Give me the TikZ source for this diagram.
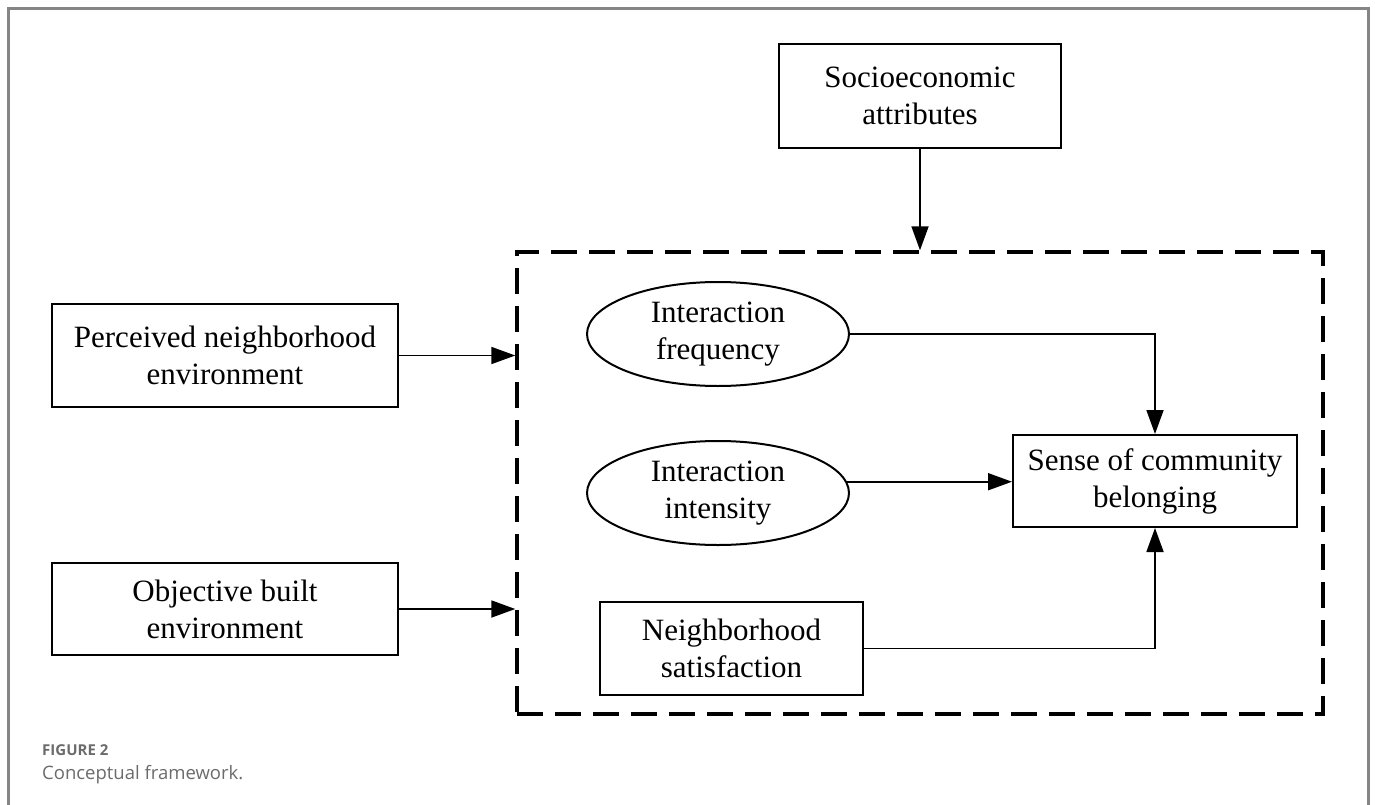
\documentclass[tikz,border=0pt]{standalone}
\usepackage{fontspec}
\setmainfont{Liberation Serif}
\newfontfamily\captionfont{Open Sans}
\usetikzlibrary{shapes.geometric,arrows.meta,positioning,calc}
\definecolor{framegray}{HTML}{858585}
\definecolor{captiongray}{HTML}{6B6B6B}
\tikzset{
  block/.style={draw, line width=2pt, inner sep=0pt, align=center, font=\fontsize{31}{37}\selectfont},
  oval/.style={block, ellipse, minimum width=262pt, minimum height=104pt},
  link/.style={line width=1.8pt, -{Triangle[length=24pt,width=17pt]}},
}

\begin{document}
\begin{tikzpicture}[x=1pt,y=-1pt]
    \useasboundingbox (0,0) rectangle (1375,805);
    \draw [framegray, line width=3pt] (8,830) -- (8,9) -- (1368,9) -- (1368,830);

    % dashed group
    \node [draw, line width=3.4pt, dash pattern=on 26pt off 12pt, minimum width=806pt, minimum height=462pt] (mediate) at (920,483) {};

    \node [block, minimum width=282pt, minimum height=104pt] (socio) at (920,96) {Socioeconomic\\attributes};
    \node [block, minimum width=346pt, minimum height=103pt] (perceived) at (225,355.5) {Perceived neighborhood\\environment};
    \node [block, minimum width=346pt, minimum height=92pt] (objective) at (225,609) {Objective built\\environment};

    \node [oval] (freq) at (718,334) {Interaction\\frequency};
    \node [oval] (intens) at (718,493) {Interaction\\intensity};
    \node [block, minimum width=263pt, minimum height=93pt] (satisf) at (731.5,648.5) {Neighborhood\\satisfaction};
    \node [block, minimum width=284pt, minimum height=92pt] (belong) at (1155,481) {Sense of community\\belonging};

    \draw [link] (socio) -- (socio |- mediate.north);
    \draw [link] (perceived) -- (perceived -| mediate.west);
    \draw [link] (objective) -- (objective -| mediate.west);

    \draw [link] (freq) -| (belong);
    \draw [link] (intens.5.4) -- (intens.5.4 -| belong.west);
    \draw [link] (satisf) -| (belong);

    % caption
    \node [anchor=base west, inner sep=0pt, text=captiongray, font=\captionfont\bfseries\fontsize{15}{18}\selectfont] (figlabel) at (42,755) {FIGURE 2};
    \node [anchor=base west, inner sep=0pt, text=captiongray, font=\captionfont\fontsize{18.5}{22}\selectfont] (figtitle) at (42,779) {Conceptual framework.};
\end{tikzpicture}
\end{document}
